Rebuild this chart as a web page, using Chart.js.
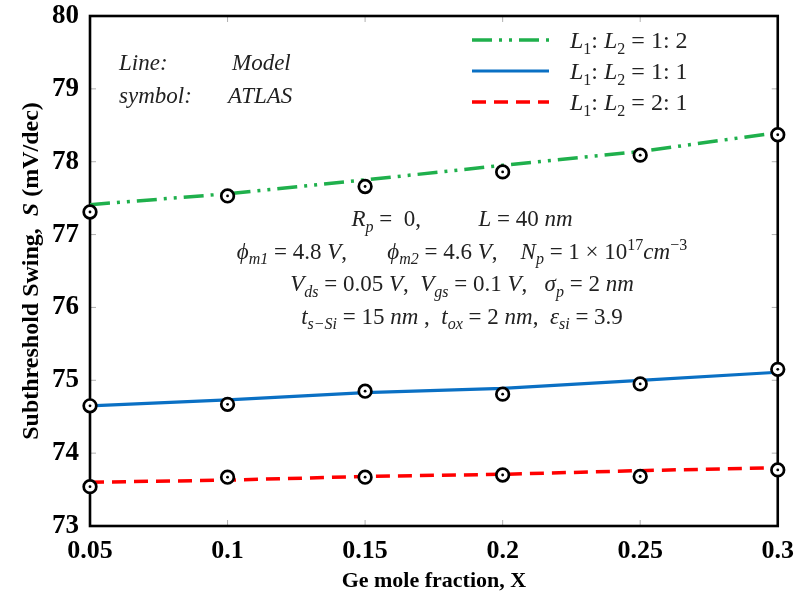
<!DOCTYPE html>
<html>
<head>
<meta charset="utf-8">
<script src="https://cdn.jsdelivr.net/npm/chart.js@4/dist/chart.umd.min.js"></script>
<style>
  html, body { margin: 0; padding: 0; background: #fff; }
  canvas { display: block; }
</style>
</head>
<body>
<canvas id="swingChart" width="796" height="599"></canvas>
<script>
// Ge mole fraction (x axis)
const xValues = [0.05, 0.1, 0.15, 0.2, 0.25, 0.3];
const xTickLabels = ['0.05', '0.1', '0.15', '0.2', '0.25', '0.3'];
const yTickLabels = ['73', '74', '75', '76', '77', '78', '79', '80'];

// Model lines
const model12 = [77.41, 77.56, 77.75, 77.95, 78.14, 78.40];
const model11 = [74.65, 74.73, 74.83, 74.89, 75.00, 75.11];
const model21 = [73.60, 73.63, 73.68, 73.71, 73.76, 73.80];

// ATLAS symbols
const atlas12 = [77.31, 77.53, 77.66, 77.86, 78.09, 78.37];
const atlas11 = [74.65, 74.67, 74.85, 74.81, 74.95, 75.15];
const atlas21 = [73.54, 73.67, 73.67, 73.70, 73.68, 73.77];

const serif = '"Liberation Serif", "Times New Roman", serif';

function toPoints(ys) {
    return xValues.map((x, i) => ({ x: x, y: ys[i] }));
}

function modelSet(ys, color, dash, width, label) {
    return {
        label: label,
        data: toPoints(ys),
        borderColor: color,
        borderWidth: width,
        borderDash: dash,
        pointRadius: 0,
        fill: false,
        tension: 0,
        order: 2,
        isModel: true
    };
}

function atlasSet(ys) {
    return {
        data: toPoints(ys),
        showLine: false,
        pointRadius: 6.3,
        pointBorderWidth: 2.7,
        pointBorderColor: '#000',
        pointBackgroundColor: '#fff',
        order: 1,
        isAtlas: true
    };
}

// draw text made of pieces (italic / sub / sup)
function richWidth(ctx, parts, size) {
    let w = 0;
    parts.forEach(p => {
        ctx.font = partFont(p[1], size);
        w += ctx.measureText(p[0]).width;
    });
    return w;
}

function partFont(style, size) {
    const small = Math.round(size * 0.68);
    switch (style) {
        case 'i': return 'italic ' + size + 'px ' + serif;
        case 'isub': return 'italic ' + small + 'px ' + serif;
        case 'sub': return small + 'px ' + serif;
        case 'sup': return small + 'px ' + serif;
        case 'isup': return 'italic ' + small + 'px ' + serif;
        case 'b': return 'bold ' + size + 'px ' + serif;
        case 'bi': return 'italic bold ' + size + 'px ' + serif;
        default: return size + 'px ' + serif;
    }
}

function drawRich(ctx, parts, x, y, size, align) {
    let cx = x;
    if (align === 'center') cx = x - richWidth(ctx, parts, size) / 2;
    ctx.textBaseline = 'alphabetic';
    ctx.textAlign = 'left';
    parts.forEach(p => {
        ctx.font = partFont(p[1], size);
        let dy = 0;
        if (p[1] === 'sub' || p[1] === 'isub') dy = size * 0.25;
        if (p[1] === 'sup' || p[1] === 'isup') dy = -size * 0.38;
        ctx.fillText(p[0], cx, y + dy);
        cx += ctx.measureText(p[0]).width;
    });
}

const legendParts = [
    [['L', 'i'], ['1', 'sub'], ': ', ['L', 'i'], ['2', 'sub'], ' = 1: 2'],
    [['L', 'i'], ['1', 'sub'], ': ', ['L', 'i'], ['2', 'sub'], ' = 1: 1'],
    [['L', 'i'], ['1', 'sub'], ': ', ['L', 'i'], ['2', 'sub'], ' = 2: 1']
].map(row => row.map(p => Array.isArray(p) ? p : [p, 'r']));

const paramLines = [
    [['R', 'i'], ['p', 'isub'], [' =  0,          ', 'r'], ['L', 'i'], [' = 40 ', 'r'], ['nm', 'i']],
    [['ϕ', 'i'], ['m1', 'isub'], [' = 4.8 ', 'r'], ['V', 'i'], [',       ', 'r'], ['ϕ', 'i'], ['m2', 'isub'], [' = 4.6 ', 'r'], ['V', 'i'], [',    ', 'r'],
     ['N', 'i'], ['p', 'isub'], [' = 1 × 10', 'r'], ['17', 'sup'], ['cm', 'i'], ['−3', 'sup']],
    [['V', 'i'], ['ds', 'isub'], [' = 0.05 ', 'r'], ['V', 'i'], [',  ', 'r'], ['V', 'i'], ['gs', 'isub'], [' = 0.1 ', 'r'], ['V', 'i'], [',   ', 'r'],
     ['σ', 'i'], ['p', 'isub'], [' = 2 ', 'r'], ['nm', 'i']],
    [['t', 'i'], ['s−Si', 'isub'], [' = 15 ', 'r'], ['nm', 'i'], [' ,  ', 'r'], ['t', 'i'], ['ox', 'isub'], [' = 2 ', 'r'], ['nm', 'i'], [',  ', 'r'],
     ['ε', 'i'], ['si', 'isub'], [' = 3.9', 'r']]
];

const decorPlugin = {
    id: 'decor',
    beforeDatasetsDraw(chart) {
        const ctx = chart.ctx;
        const a = chart.chartArea;
        const xs = chart.scales.x;
        const ys = chart.scales.y;
        ctx.save();
        // inward tick marks
        ctx.strokeStyle = '#b0b0b0';
        ctx.lineWidth = 1;
        const len = 6;
        ctx.beginPath();
        xs.ticks.forEach(t => {
            const px = xs.getPixelForValue(t.value);
            ctx.moveTo(px, a.bottom); ctx.lineTo(px, a.bottom - len);
            ctx.moveTo(px, a.top); ctx.lineTo(px, a.top + len);
        });
        ys.ticks.forEach(t => {
            const py = ys.getPixelForValue(t.value);
            ctx.moveTo(a.left, py); ctx.lineTo(a.left + len, py);
            ctx.moveTo(a.right, py); ctx.lineTo(a.right - len, py);
        });
        ctx.stroke();
        // frame
        ctx.strokeStyle = '#000';
        ctx.lineWidth = 2.6;
        ctx.strokeRect(a.left, a.top, a.right - a.left, a.bottom - a.top);
        ctx.restore();
    },
    afterDatasetsDraw(chart) {
        const ctx = chart.ctx;
        const a = chart.chartArea;
        ctx.save();
        ctx.fillStyle = '#000';

        // centre dot inside each ATLAS circle
        chart.data.datasets.forEach((ds, i) => {
            if (!ds.isAtlas) return;
            chart.getDatasetMeta(i).data.forEach(el => {
                ctx.beginPath();
                ctx.arc(el.x, el.y, 1.4, 0, Math.PI * 2);
                ctx.fill();
            });
        });

        // legend (top right)
        const models = chart.data.datasets.filter(ds => ds.isModel);
        models.forEach((ds, i) => {
            const y = a.top + 24 + i * 31;
            ctx.strokeStyle = ds.borderColor;
            ctx.lineWidth = ds.borderWidth;
            ctx.setLineDash(ds.borderDash || []);
            ctx.beginPath();
            ctx.moveTo(a.left + 382, y);
            ctx.lineTo(a.left + 459, y);
            ctx.stroke();
            ctx.setLineDash([]);
            ctx.fillStyle = '#222';
            drawRich(ctx, legendParts[i], a.left + 480, y + 8, 24);
        });

        // Line / symbol note
        ctx.fillStyle = '#222';
        ctx.font = 'italic 23px ' + serif;
        ctx.textAlign = 'left';
        ctx.textBaseline = 'alphabetic';
        ctx.fillText('Line:', a.left + 29, a.top + 54);
        ctx.fillText('Model', a.left + 142, a.top + 54);
        ctx.fillText('symbol:', a.left + 29, a.top + 87);
        ctx.fillText('ATLAS', a.left + 138, a.top + 87);

        // device parameters
        const cx = a.left + 372;
        paramLines.forEach((parts, i) => {
            drawRich(ctx, parts, cx, a.top + 210 + i * 32.5, 23, 'center');
        });

        // y axis title with italic S
        const yParts = [['Subthreshold Swing,  ', 'b'], ['S', 'bi'], [' (mV/dec)', 'b']];
        ctx.translate(30, (a.top + a.bottom) / 2);
        ctx.rotate(-Math.PI / 2);
        ctx.fillStyle = '#000';
        drawRich(ctx, yParts, 0, 8, 24, 'center');
        ctx.restore();
    }
};

const ctx = document.getElementById('swingChart').getContext('2d');

new Chart(ctx, {
    type: 'line',
    data: {
        datasets: [
            modelSet(model12, '#1fb04c', [20, 7, 3, 7, 3, 7], 3.5, 'L1:L2 = 1:2'),
            modelSet(model11, '#0a70c4', [], 3.2, 'L1:L2 = 1:1'),
            modelSet(model21, '#ff0000', [14, 8], 3.5, 'L1:L2 = 2:1'),
            atlasSet(atlas12),
            atlasSet(atlas11),
            atlasSet(atlas21)
        ]
    },
    options: {
        responsive: false,
        animation: false,
        devicePixelRatio: 1,
        clip: false,
        layout: { padding: { top: 16, right: 14, left: 0, bottom: 0 } },
        plugins: {
            legend: { display: false },
            tooltip: { enabled: false }
        },
        scales: {
            x: {
                type: 'linear',
                min: 0.05,
                max: 0.3,
                grid: { display: false },
                border: { display: false },
                ticks: {
                    stepSize: 0.05,
                    autoSkip: false,
                    maxRotation: 0,
                    color: '#000',
                    padding: 2,
                    font: { family: serif, size: 26, weight: 'bold' },
                    callback: v => xTickLabels[Math.round((v - 0.05) / 0.05)]
                },
                title: {
                    display: true,
                    text: 'Ge mole fraction, X',
                    color: '#000',
                    padding: { top: 6, bottom: 4 },
                    font: { family: serif, size: 22, weight: 'bold' }
                },
                afterFit: scale => { scale.height = 73; }
            },
            y: {
                min: 73,
                max: 80,
                grid: { display: false },
                border: { display: false },
                ticks: {
                    stepSize: 1,
                    color: '#000',
                    padding: 3,
                    font: { family: serif, size: 27, weight: 'bold', lineHeight: 0.6 },
                    callback: v => yTickLabels[Math.round(v - 73)]
                },
                afterFit: scale => { scale.width = 90; }
            }
        }
    },
    plugins: [decorPlugin]
});
</script>
</body>
</html>
